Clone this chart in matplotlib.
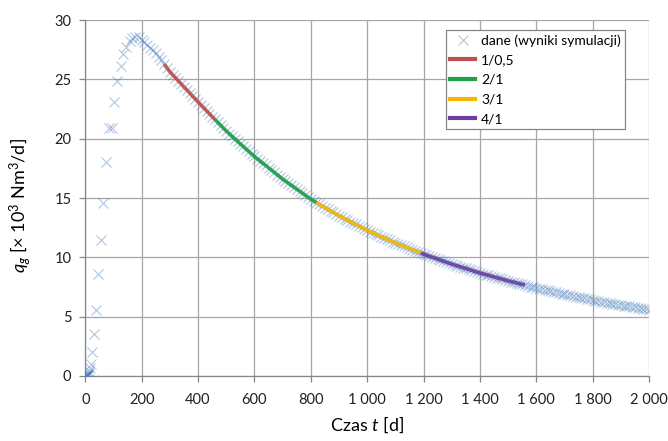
import matplotlib
matplotlib.use("Agg")
import matplotlib.pyplot as plt
from matplotlib.lines import Line2D

plt.rcParams["font.family"] = ["Lato", "DejaVu Sans"]
plt.rcParams["mathtext.fontset"] = "custom"
plt.rcParams["mathtext.rm"] = "Lato"
plt.rcParams["mathtext.it"] = "Lato:italic"

# ── Dane (wyniki symulacji) ───────────────────────────────────────────
t_early = [0, 0.5, 1, 1.5, 2, 2.5, 3, 3.5, 4, 5, 6, 7, 8, 9, 10, 12, 14, 16, 20,
           24, 30, 37, 46, 54, 64, 75, 85, 94, 103, 114, 125, 135, 145, 157,
           167, 177]
q_early = [0, 0, 0, 0, 0, 0, 0, 0, 0.02, 0.03, 0.05, 0.08, 0.1, 0.12, 0.15,
           0.25, 0.45, 0.65, 1.05, 2.0, 3.5, 5.55, 8.6, 11.45, 14.6, 18.0,
           20.9, 20.9, 23.1, 24.85, 26.1, 27.1, 27.75, 28.2, 28.45, 28.55]

t_late = list(range(190, 2001, 10))
q_late = [
    28.55, 28.35, 28.15, 27.92, 27.68, 27.44, 27.18, 26.90, 26.60, 26.28,  # 190-280
    25.95, 25.64, 25.38, 25.13, 24.87, 24.62, 24.36, 24.11, 23.86, 23.60,  # 290-380
    23.35, 23.10, 22.85, 22.60, 22.35, 22.11, 21.86, 21.62, 21.37, 21.13,  # 390-480
    20.89, 20.65, 20.43, 20.21, 20.00, 19.78, 19.56, 19.35, 19.14, 18.92,  # 490-580
    18.71, 18.50, 18.31, 18.12, 17.93, 17.74, 17.55, 17.36, 17.17, 16.98,  # 590-680
    16.79, 16.60, 16.43, 16.26, 16.09, 15.92, 15.75, 15.58, 15.41, 15.24,  # 690-780
    15.07, 14.90, 14.76, 14.62, 14.48, 14.34, 14.20, 14.06, 13.92, 13.79,  # 790-880
    13.65, 13.51, 13.39, 13.26, 13.14, 13.02, 12.89, 12.77, 12.65, 12.52,  # 890-980
    12.40, 12.28, 12.17, 12.07, 11.96, 11.85, 11.75, 11.64, 11.53, 11.43,  # 990-1080
    11.32, 11.21, 11.12, 11.02, 10.93, 10.83, 10.74, 10.65, 10.55, 10.46,  # 1090-1180
    10.36, 10.27, 10.19, 10.10, 10.02, 9.93, 9.85, 9.77, 9.68, 9.60,       # 1190-1280
    9.51, 9.43, 9.36, 9.28, 9.21, 9.13, 9.06, 8.98, 8.91, 8.83,            # 1290-1380
    8.76, 8.68, 8.61, 8.55, 8.48, 8.42, 8.35, 8.28, 8.22, 8.15,            # 1390-1480
    8.09, 8.02, 7.96, 7.90, 7.84, 7.78, 7.72, 7.66, 7.60, 7.54,            # 1490-1580
    7.48, 7.42, 7.37, 7.31, 7.26, 7.21, 7.16, 7.10, 7.05, 7.00,            # 1590-1680
    6.94, 6.89, 6.84, 6.79, 6.74, 6.69, 6.65, 6.60, 6.55, 6.50,            # 1690-1780
    6.45, 6.40, 6.36, 6.31, 6.27, 6.23, 6.19, 6.14, 6.10, 6.06,            # 1790-1880
    6.01, 5.97, 5.93, 5.90, 5.86, 5.82, 5.79, 5.75, 5.71, 5.67,            # 1890-1980
    5.64, 5.60,                                                            # 1990-2000
]

t_data = t_early + t_late
q_data = q_early + q_late

# ── Dopasowania (przedziały czasu) ────────────────────────────────────
fit_labels = ["1/0,5", "2/1", "3/1", "4/1"]
fit_ranges = [(280, 460), (460, 820), (820, 1190), (1190, 1560)]
fit_colors = ["#c0504d", "#1fa14a", "#f5b800", "#6a3fa0"]

x_ticks = [0, 200, 400, 600, 800, 1000, 1200, 1400, 1600, 1800, 2000]
x_tick_labels = ["0", "200", "400", "600", "800", "1 000", "1 200", "1 400",
                 "1 600", "1 800", "2 000"]
y_ticks = [0, 5, 10, 15, 20, 25, 30]

# ── Wykres ────────────────────────────────────────────────────────────
fig = plt.figure(figsize=(6.68, 4.41), dpi=100)
ax = fig.add_axes([0.1277, 0.1474, 0.9716 - 0.1277, 0.9546 - 0.1474])

ax.plot(t_data, q_data, linestyle="none", marker="x", markersize=6.5,
        markeredgewidth=0.8, color="#4f81bd", alpha=0.45, zorder=3)

for (t0, t1), col in zip(fit_ranges, fit_colors):
    seg_t = [t for t in t_late if t0 <= t <= t1]
    seg_q = [q for t, q in zip(t_late, q_late) if t0 <= t <= t1]
    ax.plot(seg_t, seg_q, color=col, linewidth=2.6, alpha=0.9,
            solid_capstyle="butt", zorder=4)

ax.set_xlim(0, 2000)
ax.set_ylim(0, 30)
ax.set_xticks(x_ticks)
ax.set_xticklabels(x_tick_labels)
ax.set_yticks(y_ticks)
ax.grid(True, color="#a6a6a6", linewidth=0.9)
ax.set_axisbelow(True)
for side in ["top", "right"]:
    ax.spines[side].set_visible(False)
for side in ["left", "bottom"]:
    ax.spines[side].set_color("#868686")
    ax.spines[side].set_linewidth(0.9)
ax.tick_params(axis="both", colors="#868686", labelcolor="#202020", labelsize=10.5,
               length=4, width=0.9)
ax.tick_params(axis="x", pad=8)
ax.tick_params(axis="y", pad=6)

ax.set_xlabel("Czas $t$ [d]", fontsize=13, labelpad=6)
ax.set_ylabel(r"$q_g$ [× 10$^3$ Nm$^3$/d]", fontsize=13)
ax.yaxis.set_label_coords(-0.092, 0.48)

handles = [Line2D([], [], linestyle="none", marker="x", markersize=6.5,
                  markeredgewidth=0.8, color="#4f81bd", alpha=0.45)]
handles += [Line2D([], [], color=c, linewidth=3) for c in fit_colors]
labels = ["dane (wyniki symulacji)"] + fit_labels
leg = ax.legend(handles, labels, loc="upper left", bbox_to_anchor=(0.668, 0.932),
                bbox_transform=fig.transFigure, fontsize=10, frameon=True,
                fancybox=False, edgecolor="#868686", framealpha=1,
                handlelength=1.8, handletextpad=0.4, borderpad=0.3,
                labelspacing=0.55, borderaxespad=0)
leg.get_frame().set_linewidth(0.9)

fig.savefig("out.png", dpi=100)
